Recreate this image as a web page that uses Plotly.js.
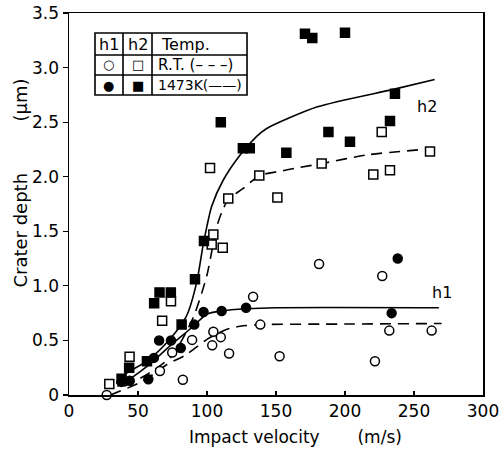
<!DOCTYPE html>
<html>
<head>
<meta charset="utf-8">
<script src="https://cdn.plot.ly/plotly-3.0.1.min.js"></script>
<style>html,body{margin:0;padding:0;background:#fff;}#chart{width:500px;height:450px;}</style>
</head>
<body>
<div id="chart"></div>
<script>
// ---- data ----
const xTickVals = [0, 50, 100, 150, 200, 250, 300];
const xTickText = ['0', '50', '100', '150', '200', '250', '300'];
const yTickVals = [0, 0.5, 1.0, 1.5, 2.0, 2.5, 3.0, 3.5];
const yTickText = ['0', '0.5', '1.0', '1.5', '2.0', '2.5', '3.0', '3.5'];

// h1, room temperature (open circles)
const h1RTx = [27.3, 65.9, 74.8, 82.5, 89.2, 103.8, 104.6, 110, 116, 133.4, 138.6, 152.6, 181.2, 221.7, 227, 232.1, 262.8];
const h1RTy = [0.0, 0.22, 0.39, 0.14, 0.505, 0.455, 0.58, 0.53, 0.38, 0.90, 0.645, 0.355, 1.20, 0.31, 1.09, 0.59, 0.59];
// h1, 1473K (filled circles)
const h1HTx = [38, 44, 57.5, 61.5, 65.3, 73.9, 81, 90.8, 97.5, 110.6, 128.3, 233.8, 238.2];
const h1HTy = [0.12, 0.13, 0.145, 0.34, 0.50, 0.50, 0.43, 0.645, 0.76, 0.77, 0.80, 0.75, 1.25];
// h2, room temperature (open squares)
const h2RTx = [29.2, 43.9, 67.5, 73.9, 102.2, 103.4, 104.6, 111.4, 115.4, 137.9, 151, 183.1, 220.5, 226.6, 232.6, 261.6];
const h2RTy = [0.10, 0.35, 0.68, 0.86, 2.08, 1.38, 1.47, 1.35, 1.80, 2.01, 1.81, 2.12, 2.02, 2.41, 2.06, 2.23];
// h2, 1473K (filled squares)
const h2HTx = [38.1, 43.6, 56.5, 61.7, 65.6, 73.8, 81.6, 91.3, 97.8, 110, 126, 131, 157.5, 171, 176.3, 188, 200, 203.6, 232.6, 236.2];
const h2HTy = [0.15, 0.25, 0.31, 0.84, 0.94, 0.94, 0.645, 1.06, 1.41, 2.50, 2.26, 2.26, 2.22, 3.31, 3.27, 2.41, 3.32, 2.32, 2.51, 2.76];

// hand-drawn fit curves
const h1SolidX = [35, 38.2, 56.3, 73.2, 90.1, 99.8, 110.6, 128.7, 150, 268];
const h1SolidY = [0.08, 0.10, 0.26, 0.45, 0.63, 0.74, 0.77, 0.79, 0.80, 0.80];
const h1DashX = [30, 54, 71, 85, 100, 114, 124, 140, 200, 270];
const h1DashY = [0.0, 0.13, 0.28, 0.37, 0.51, 0.60, 0.63, 0.645, 0.65, 0.655];
const h2SolidX = [35, 38.2, 57.5, 73, 85, 92.5, 97, 100, 103.4, 111.8, 124, 136, 143, 180, 235, 265];
const h2SolidY = [0.10, 0.17, 0.32, 0.51, 0.72, 1.03, 1.36, 1.55, 1.73, 1.97, 2.20, 2.37, 2.44, 2.64, 2.80, 2.89];
const h2DashX = [40, 54, 74.4, 90, 99.8, 103.5, 106.5, 111.5, 116, 126, 138, 153, 165, 183, 216, 257];
const h2DashY = [0.08, 0.17, 0.355, 0.71, 1.09, 1.32, 1.52, 1.70, 1.80, 1.89, 2.01, 2.05, 2.08, 2.12, 2.20, 2.25];

// ---- styling ----
const FONT = 'DejaVu Sans, sans-serif';
const lineBase = {color: 'black', width: 1.6, shape: 'spline', smoothing: 0.7};
const dashPat = '11px,7px';

function curve(x, y, dashed) {
  return {type: 'scatter', mode: 'lines', x: x, y: y, hoverinfo: 'skip', showlegend: false,
          line: Object.assign({}, lineBase, {dash: dashed ? dashPat : 'solid'})};
}
function marks(x, y, symbol, filled, name) {
  return {type: 'scatter', mode: 'markers', x: x, y: y, name: name, showlegend: false, cliponaxis: false,
          marker: {symbol: symbol, size: 9, color: filled ? 'black' : 'white',
                   line: {color: 'black', width: 1.5}}};
}

const data = [
  curve(h1DashX, h1DashY, true),
  curve(h1SolidX, h1SolidY, false),
  curve(h2DashX, h2DashY, true),
  curve(h2SolidX, h2SolidY, false),
  marks(h1RTx, h1RTy, 'circle', false, 'h1 R.T.'),
  marks(h1HTx, h1HTy, 'circle', true, 'h1 1473K'),
  marks(h2RTx, h2RTy, 'square', false, 'h2 R.T.'),
  marks(h2HTx, h2HTy, 'square', true, 'h2 1473K')
];

// legend table geometry (paper coordinates)
const tx0 = 0.0628, tx1 = 0.4300, tc1 = 0.1304, tc2 = 0.2005;
const ty0 = 0.7853, ty1 = 0.9476, tr1 = 0.8901, tr2 = 0.8377;
const tline = {color: 'black', width: 1.6};
const shapes = [
  {type: 'rect', xref: 'paper', yref: 'paper', x0: tx0, x1: tx1, y0: ty0, y1: ty1, line: tline},
  {type: 'line', xref: 'paper', yref: 'paper', x0: tx0, x1: tx1, y0: tr1, y1: tr1, line: tline},
  {type: 'line', xref: 'paper', yref: 'paper', x0: tx0, x1: tx1, y0: tr2, y1: tr2, line: tline},
  {type: 'line', xref: 'paper', yref: 'paper', x0: tc1, x1: tc1, y0: ty0, y1: ty1, line: tline},
  {type: 'line', xref: 'paper', yref: 'paper', x0: tc2, x1: tc2, y0: ty0, y1: ty1, line: tline}
];

function ann(text, x, y, opts) {
  return Object.assign({text: text, x: x, y: y, xref: 'paper', yref: 'paper', showarrow: false,
                        font: {family: FONT, size: 16, color: 'black'}, xanchor: 'center', yanchor: 'middle'}, opts || {});
}
const NB = '\u00A0';
const annotations = [
  ann('h1', 0.0966, 0.9188),
  ann('h2', 0.1655, 0.9188),
  ann('Temp.', 0.2826, 0.9188),
  ann('\u25CB', 0.0966, 0.8639, {font: {family: FONT, size: 13, color: 'black'}}),
  ann('\u25A1', 0.1655, 0.8639, {font: {family: FONT, size: 13, color: 'black'}}),
  ann('\u25CF', 0.0966, 0.8115, {font: {family: FONT, size: 13, color: 'black'}}),
  ann('\u25A0', 0.1655, 0.8115, {font: {family: FONT, size: 13, color: 'black'}}),
  ann('R.T. (\u2013 \u2013 \u2013)', 0.2101, 0.8639, {xanchor: 'left', font: {family: FONT, size: 15, color: 'black'}}),
  ann('1473K(\u2014\u2014)', 0.2101, 0.8115, {xanchor: 'left', font: {family: FONT, size: 14, color: 'black'}}),
  // curve labels (data coordinates)
  {text: 'h2', x: 259.4, y: 2.64, xref: 'x', yref: 'y', showarrow: false, font: {family: FONT, size: 16, color: 'black'}},
  {text: 'h1', x: 270.3, y: 0.935, xref: 'x', yref: 'y', showarrow: false, font: {family: FONT, size: 16, color: 'black'}},
  // axis titles
  ann('Impact velocity' + NB.repeat(7) + '(m/s)', 0.546, -0.109, {font: {family: FONT, size: 17, color: 'black'}}),
  ann('Crater depth' + NB.repeat(9) + '(\u03BCm)', -0.116, 0.556, {textangle: -90, font: {family: FONT, size: 18, color: 'black'}})
];

const layout = {
  width: 500, height: 450,
  margin: {l: 69, r: 17, t: 13, b: 55},
  paper_bgcolor: 'white', plot_bgcolor: 'white',
  font: {family: FONT, color: 'black', size: 17},
  showlegend: false,
  xaxis: {range: [0, 300], tickvals: xTickVals, ticktext: xTickText, ticks: 'inside', ticklen: 4, tickwidth: 1.2,
          tickcolor: 'black', showline: true, linecolor: 'black', linewidth: 1.5, mirror: true,
          showgrid: false, zeroline: false, tickfont: {family: FONT, size: 17, color: 'black'}},
  yaxis: {range: [0, 3.5], tickvals: yTickVals, ticktext: yTickText, ticks: 'outside', ticklen: 5, tickwidth: 1.2,
          tickcolor: 'black', showline: true, linecolor: 'black', linewidth: 1.5, mirror: true,
          showgrid: false, zeroline: false, tickfont: {family: FONT, size: 17, color: 'black'}},
  shapes: shapes,
  annotations: annotations
};

Plotly.newPlot('chart', data, layout, {displayModeBar: false, staticPlot: true});
</script>
</body>
</html>
